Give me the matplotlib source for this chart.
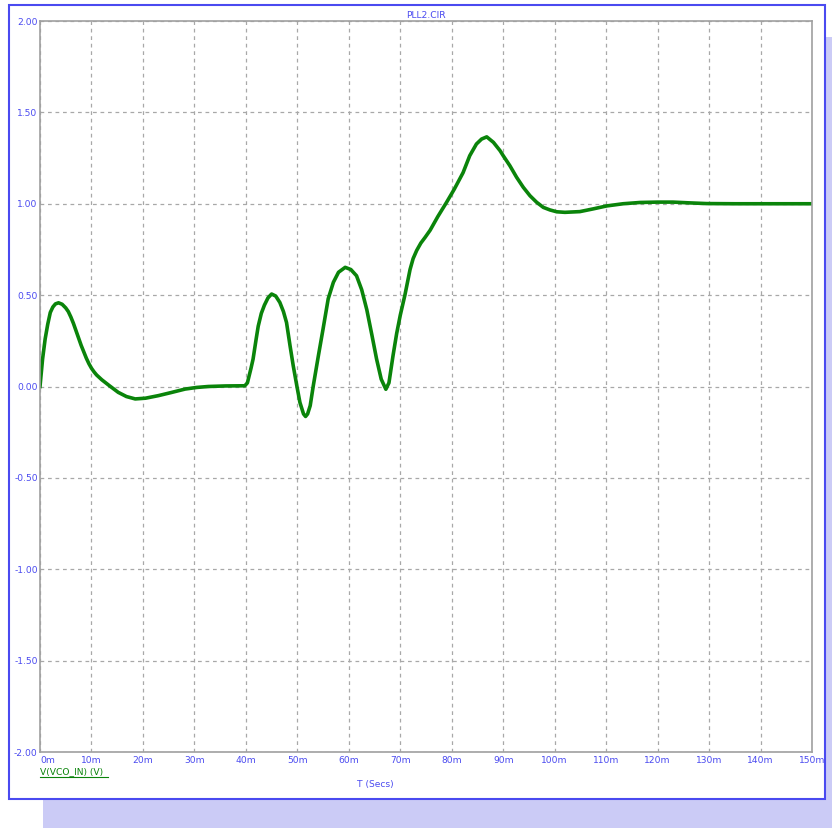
import numpy as np
import matplotlib
matplotlib.use('Agg')
import matplotlib.pyplot as plt
from matplotlib.patches import Rectangle
from matplotlib.lines import Line2D

# V(VCO_IN), time in ms
t_ms = [0, 0.5, 1.0, 1.5, 2.0, 2.5, 3.0, 3.6, 4.3, 5.0, 5.5, 6.0, 6.5, 7.0, 7.5,
        8.0, 8.5, 9.0, 9.5, 10.0, 10.5, 11.0, 12.0, 13.5, 15.2, 16.8, 18.5,
        20.5, 23.0, 25.5, 28.2, 30.5, 32.7, 36.0, 39.8, 40.3, 41.0, 41.4, 42.0,
        42.4, 43.0, 43.6, 44.3, 45.0, 45.8, 46.6, 47.3, 47.9, 48.6, 49.2, 49.9,
        50.5, 51.2, 51.6, 52.0, 52.5, 53.1, 54.1, 55.0, 56.0, 57.0, 58.0, 59.3,
        60.4, 61.5, 62.5, 63.5, 64.5, 65.4, 66.3, 67.2, 67.8, 68.6, 69.3, 70.0,
        70.9, 71.9, 72.5, 73.2, 74.0, 74.8, 75.8, 77.3, 79.0, 80.5, 82.2, 83.5,
        84.8, 85.8, 86.8, 88.1, 89.4, 90.0, 91.3, 92.6, 93.9, 95.2, 96.5, 97.8,
        99.1, 100.4, 102.0, 104.9, 107.5, 110.1, 113.3, 116.6, 120.0, 123.0,
        126.0, 129.5, 135.0, 150.0]
v_vco = [0.0, 0.15, 0.26, 0.34, 0.405, 0.435, 0.452, 0.458, 0.45, 0.43, 0.41,
         0.38, 0.345, 0.305, 0.265, 0.225, 0.19, 0.155, 0.125, 0.10, 0.08,
         0.063, 0.037, 0.004, -0.032, -0.055, -0.068, -0.064, -0.05, -0.033,
         -0.014, -0.005, 0.0, 0.003, 0.004, 0.02, 0.1, 0.15, 0.26, 0.33, 0.40,
         0.445, 0.485, 0.506, 0.495, 0.46, 0.41, 0.35, 0.22, 0.114, 0.004,
         -0.087, -0.15, -0.164, -0.15, -0.105, 0.004, 0.17, 0.315, 0.48, 0.57,
         0.625, 0.652, 0.64, 0.606, 0.53, 0.42, 0.28, 0.15, 0.04, -0.015, 0.02,
         0.17, 0.29, 0.39, 0.5, 0.64, 0.70, 0.745, 0.785, 0.815, 0.855, 0.93,
         1.008, 1.08, 1.17, 1.263, 1.327, 1.354, 1.366, 1.336, 1.29, 1.263,
         1.208, 1.145, 1.09, 1.044, 1.008, 0.98, 0.966, 0.956, 0.953, 0.957,
         0.972, 0.988, 1.0, 1.007, 1.009, 1.009, 1.005, 1.001, 1.0, 1.0]

x_ticks = list(range(0, 151, 10))
x_labels = [f'{v}m' for v in x_ticks]
y_ticks = [2.0, 1.5, 1.0, 0.5, 0.0, -0.5, -1.0, -1.5, -2.0]
y_labels = [f'{v:.2f}' for v in y_ticks]

W, H = 832, 829
blue = '#4a4af0'
green = '#0a840a'
grid_gray = '#a8a8a8'

fig = plt.figure(figsize=(W / 100, H / 100), dpi=100)
fig.patch.set_facecolor('white')

def px(x, y, w, h):
    # pixel box (top-left origin) -> figure fraction
    return (x / W, 1 - (y + h) / H, w / W, h / H)

# shadow + panel
x0, y0, w0, h0 = px(43, 38, 800, 800)
fig.add_artist(Rectangle((x0, y0), w0, h0, transform=fig.transFigure,
                         facecolor='#cbcbf6', edgecolor='none', zorder=0))
x0, y0, w0, h0 = px(9, 6, 816, 794)
fig.add_artist(Rectangle((x0, y0), w0, h0, transform=fig.transFigure,
                         facecolor='white', edgecolor=blue, linewidth=1.5, zorder=0.5))

ax = fig.add_axes(px(40, 22, 772, 731))
ax.set_zorder(1)
ax.plot(t_ms, v_vco, color=green, linewidth=2.6, solid_joinstyle='round')
ax.set_xlim(0, 150)
ax.set_ylim(-2, 2)
ax.set_xticks(x_ticks)
ax.set_yticks(y_ticks)
ax.set_xticklabels([])
ax.set_yticklabels([])
ax.tick_params(length=0)
ax.grid(True, color=grid_gray, linestyle=(0, (3, 3)), linewidth=0.9)
for s in ax.spines.values():
    s.set_color('#a0a0a0')
    s.set_linewidth(1.2)

fs = 6.6
for v, lab in zip(x_ticks, x_labels):
    ha = 'left' if v == 0 else 'center'
    ax.text(v, -0.004, lab, transform=ax.get_xaxis_transform(), ha=ha, va='top',
            color=blue, fontsize=fs)
for v, lab in zip(y_ticks, y_labels):
    ax.text(-0.003, v, lab, transform=ax.get_yaxis_transform(), ha='right',
            va='center', color=blue, fontsize=fs)

fig.text(426 / W, 1 - 15 / H, 'PLL2.CIR', ha='center', va='center', color=blue, fontsize=fs)
fig.text(375 / W, 1 - 785 / H, 'T (Secs)', ha='center', va='center', color=blue, fontsize=fs)
fig.text(40 / W, 1 - 772 / H, 'V(VCO_IN) (V)', ha='left', va='center', color=green, fontsize=fs)
fig.add_artist(Line2D([40 / W, 108 / W], [1 - 777.5 / H, 1 - 777.5 / H],
                      transform=fig.transFigure, color=green, linewidth=0.8))

fig.savefig('out.png', dpi=100)
